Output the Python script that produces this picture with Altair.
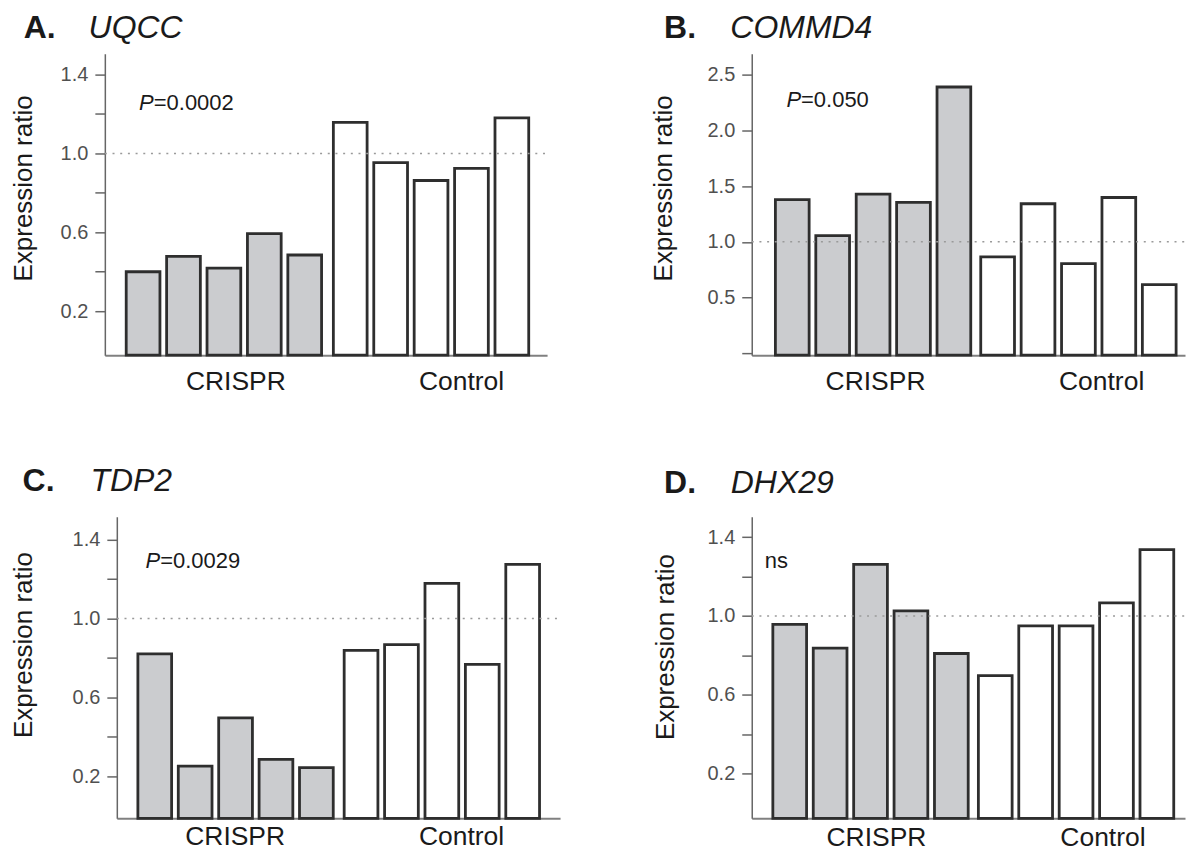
import altair as alt
import pandas as pd

# ---------------- data ----------------
groups = ["CRISPR", "Control"]
replicates = ["r1", "r2", "r3", "r4", "r5"]

letters = ["A.", "B.", "C.", "D."]
genes = ["UQCC", "COMMD4", "TDP2", "DHX29"]
stat_labels = ["P=0.0002", "P=0.050", "P=0.0029", "ns"]

uqcc_crispr = [0.400, 0.478, 0.418, 0.593, 0.485]
uqcc_control = [1.158, 0.954, 0.863, 0.924, 1.180]
commd4_crispr = [1.378, 1.056, 1.429, 1.354, 2.389]
commd4_control = [0.866, 1.342, 0.804, 1.398, 0.616]
tdp2_crispr = [0.821, 0.251, 0.496, 0.285, 0.243]
tdp2_control = [0.838, 0.868, 1.179, 0.767, 1.275]
dhx29_crispr = [0.957, 0.836, 1.262, 1.025, 0.809]
dhx29_control = [0.697, 0.949, 0.949, 1.066, 1.336]

ratio_ticks = [0.2, 0.4, 0.6, 0.8, 1.0, 1.2, 1.4]
ratio_labels = ["0.2", "0.6", "1.0", "1.4"]
commd4_ticks = [0.0, 0.5, 1.0, 1.5, 2.0, 2.5]
commd4_labels = ["0.5", "1.0", "1.5", "2.0", "2.5"]
reference_level = [1.0]

# ---------------- styling / layout ----------------
FONT = "Liberation Sans"
H = 302

# x0: where the panel's axes start inside its view (pixels)
layouts = [
    # A
    dict(W=443, x0=0, dom=(-0.0228, 1.5063), pi=0.0569, po=0.0959, al=0.538,
         title_xy=(-81.95, 134.5), head_x=(-81.3, -16.3), head_y=-15.5,
         stat_xy=(34.3, 56), lab_dy=35, lab_dx=(12, 30.5)),
    # B
    dict(W=434, x0=0, dom=(-0.0157, 2.688), pi=0.0413, po=0.0756, al=0.762,
         title_xy=(-88.75, 134.5), head_x=(-87.8, -21.4), head_y=-15.2,
         stat_xy=(34.7, 53), lab_dy=35, lab_dx=(1.7, 22.5)),
    # C
    dict(W=456, x0=12, dom=(-0.0145, 1.5166), pi=0.0426, po=0.0956, al=0.534,
         title_xy=(-93.25, 128), head_x=(-82.4, -14.4), head_y=-25.5,
         stat_xy=(40.7, 51.3), lab_dy=27, lab_dx=(-1.5, 18.6)),
    # D
    dict(W=434, x0=0, dom=(-0.0282, 1.5029), pi=0.05, po=0.079, al=0.65,
         title_xy=(-86.75, 130), head_x=(-87.8, -21.0), head_y=-23.7,
         stat_xy=(13, 51.3), lab_dy=28, lab_dx=(6, 27)),
]


def panel(i, crispr, control, ticks, shown):
    L = layouts[i]
    ymin, ymax = L["dom"]
    x0, W = L["x0"], L["W"]
    df = pd.DataFrame({
        "group": [groups[0]] * len(crispr) + [groups[1]] * len(control),
        "rep": replicates + replicates,
        "value": crispr + control,
    })
    xscale = alt.Scale(range=[x0, W], paddingInner=L["pi"],
                       paddingOuter=L["po"], align=L["al"])
    x_enc = alt.X("group:N", sort=groups, scale=xscale,
                  axis=alt.Axis(title=None, labels=False, ticks=False,
                                domainColor="#808080", domainWidth=2))
    expr = ("indexof([" + ",".join("'%s'" % s for s in shown) +
            "], datum.label) >= 0 ? datum.label : ''")
    y_enc = alt.Y("value:Q",
                  scale=alt.Scale(domain=[ymin, ymax], nice=False, zero=False),
                  axis=alt.Axis(values=ticks, format=".1f", labelExpr=expr,
                                offset=-x0,
                                title="Expression ratio", titleFont=FONT,
                                titleFontSize=26, titleFontWeight="normal",
                                titleColor="#1a1a1a", titleAngle=270,
                                titleAlign="center", titleBaseline="middle",
                                titleX=L["title_xy"][0], titleY=L["title_xy"][1],
                                labelFont=FONT, labelFontSize=20, labelColor="#505050",
                                labelPadding=7, tickSize=10, tickColor="#666666",
                                tickWidth=1.5, domainColor="#666666", domainWidth=1.5,
                                grid=False))
    bars = alt.Chart(df).mark_bar(stroke="#2e2e2e", strokeWidth=2.8).encode(
        x=x_enc,
        xOffset=alt.XOffset("rep:N", sort=replicates,
                            scale=alt.Scale(paddingInner=0.165, paddingOuter=0)),
        y=y_enc,
        y2=alt.datum(ymin),
        fill=alt.Fill("group:N", sort=groups,
                      scale=alt.Scale(domain=groups, range=["#cbcccf", "#ffffff"]),
                      legend=None),
    )
    # dotted reference line at ratio 1.0, spanning the axis frame
    rule = alt.Chart(pd.DataFrame({"level": reference_level})).mark_rule(
        color="#9a9a9a", strokeDash=[2, 5.7], strokeWidth=1.5
    ).encode(y="level:Q", x=alt.value(x0), x2=alt.value(W))

    tdf = pd.DataFrame({"letter": [letters[i]], "gene": [genes[i]]})
    letter_t = alt.Chart(tdf).mark_text(
        align="left", baseline="alphabetic", font=FONT, fontSize=32,
        fontWeight="bold", color="#1a1a1a"
    ).encode(x=alt.value(L["head_x"][0]), y=alt.value(L["head_y"]), text="letter:N")
    gene_t = alt.Chart(tdf).mark_text(
        align="left", baseline="alphabetic", font=FONT, fontSize=32,
        fontStyle="italic", color="#1a1a1a"
    ).encode(x=alt.value(L["head_x"][1]), y=alt.value(L["head_y"]), text="gene:N")

    layers = [bars, rule, letter_t, gene_t]

    stat = stat_labels[i]
    sx, sy = L["stat_xy"]
    if stat.startswith("P="):
        sdf = pd.DataFrame({"p": ["P"], "rest": [stat[1:]]})
        layers.append(alt.Chart(sdf).mark_text(
            align="left", baseline="alphabetic", font=FONT, fontSize=22,
            fontStyle="italic", color="#1a1a1a"
        ).encode(x=alt.value(sx), y=alt.value(sy), text="p:N"))
        layers.append(alt.Chart(sdf).mark_text(
            align="left", baseline="alphabetic", font=FONT, fontSize=22,
            color="#1a1a1a"
        ).encode(x=alt.value(sx + 14.7), y=alt.value(sy), text="rest:N"))
    else:
        sdf = pd.DataFrame({"s": [stat]})
        layers.append(alt.Chart(sdf).mark_text(
            align="left", baseline="alphabetic", font=FONT, fontSize=22,
            color="#1a1a1a"
        ).encode(x=alt.value(sx), y=alt.value(sy), text="s:N"))

    for g, dx in zip(groups, L["lab_dx"]):
        layers.append(alt.Chart(pd.DataFrame({"group": [g]})).mark_text(
            align="center", baseline="alphabetic", font=FONT, fontSize=26.5,
            color="#1a1a1a", dx=dx
        ).encode(x=alt.X("group:N", sort=groups), y=alt.value(H + L["lab_dy"]),
                 text="group:N"))

    return alt.layer(*layers).properties(width=W, height=H)


pA = panel(0, uqcc_crispr, uqcc_control, ratio_ticks, ratio_labels)
pB = panel(1, commd4_crispr, commd4_control, commd4_ticks, commd4_labels)
pC = panel(2, tdp2_crispr, tdp2_control, ratio_ticks, ratio_labels)
pD = panel(3, dhx29_crispr, dhx29_control, ratio_ticks, ratio_labels)

chart = (
    alt.concat(pA, pB, pC, pD, columns=2, bounds="flush",
               spacing={"row": 162, "column": 192})
    .properties(padding={"left": 2, "top": 3, "right": 0, "bottom": 0},
                background="white")
    .configure(font=FONT)
    .configure_view(strokeWidth=0)
)

chart.save("out.html", embed_options={"renderer": "svg", "actions": False})
